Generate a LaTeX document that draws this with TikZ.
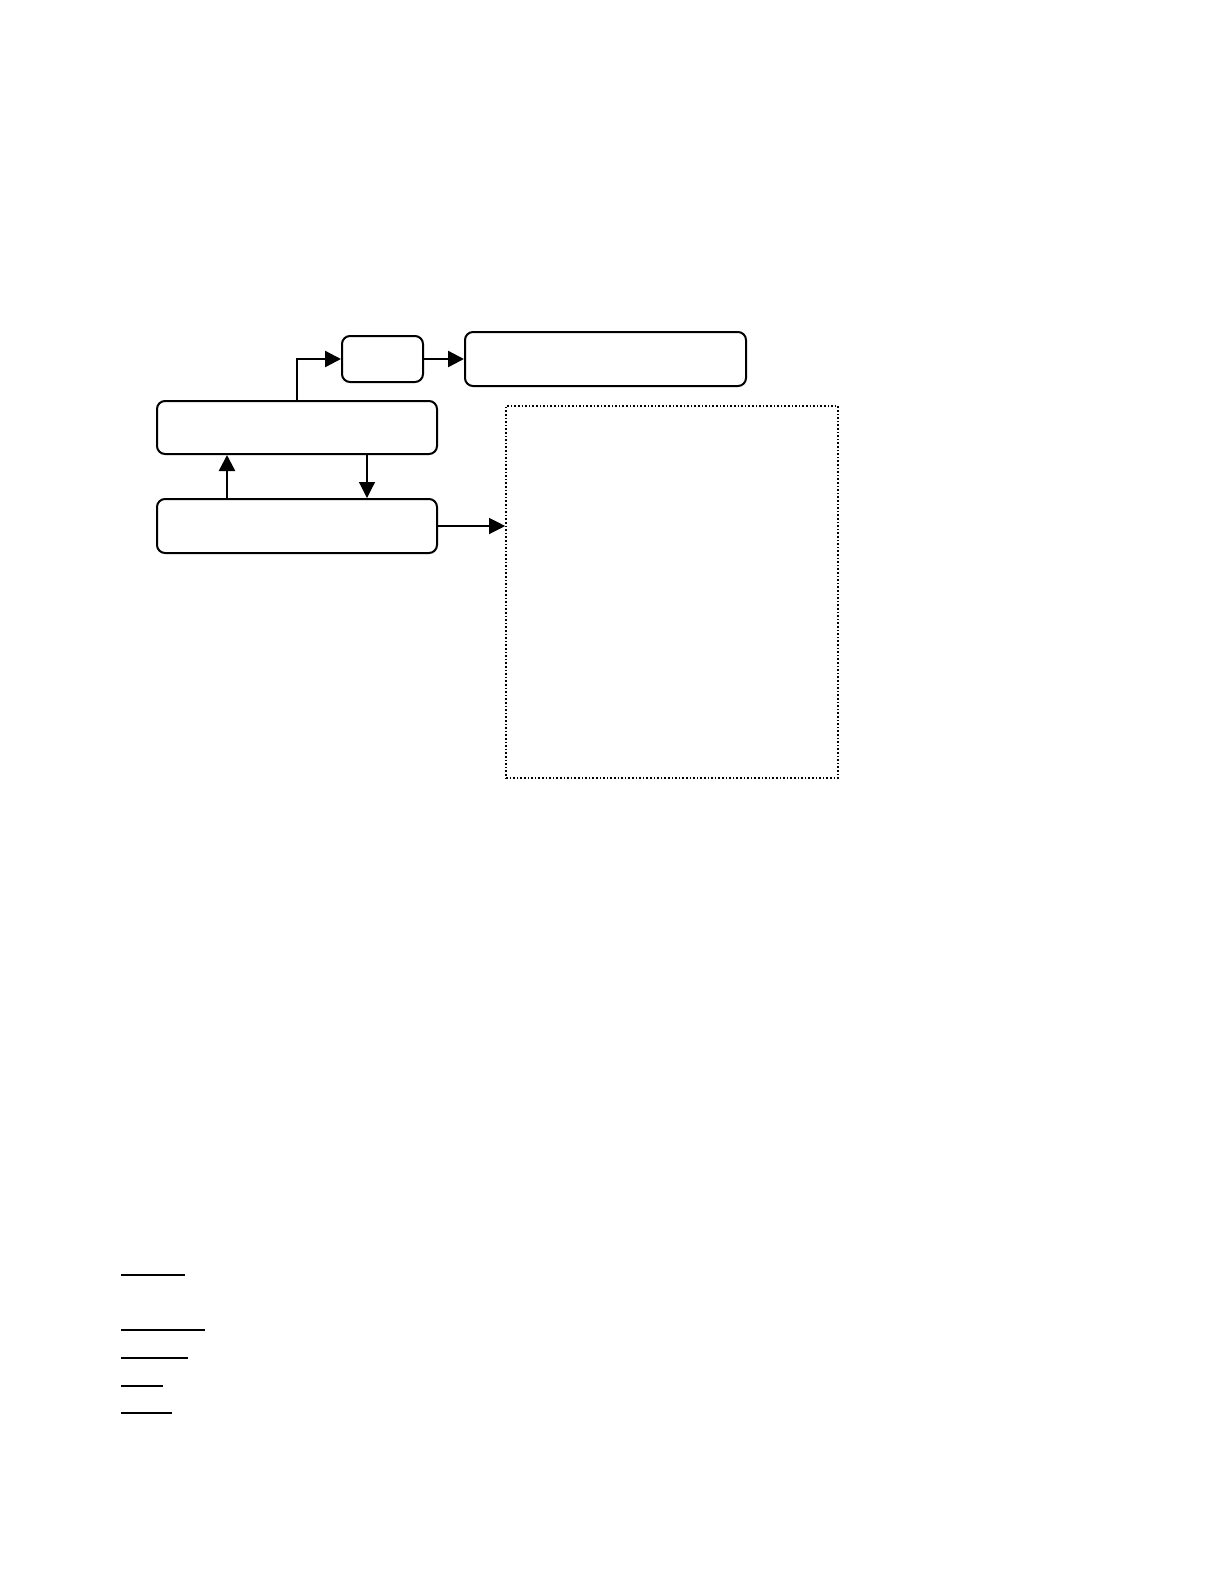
\documentclass[tikz,border=0pt]{standalone}
\usetikzlibrary{arrows.meta}
\begin{document}
\begin{tikzpicture}[x=0.5pt,y=-0.5pt,
  boxstyle/.style={draw=black,line width=1pt,rounded corners=4pt,inner sep=0pt,fill=white},
  dotbox/.style={draw=black,line width=0.8pt,densely dotted,inner sep=0pt},
  thickarrow/.style={line width=1.2pt,-{Triangle[length=8pt,width=8pt]}},
  thinarrow/.style={line width=0.6pt,-{Triangle[length=8pt,width=8pt]}},
  uline/.style={line width=0.8pt}]
\useasboundingbox (0,0) rectangle (1224,1584);
\fill[white] (0,0) rectangle (1224,1584);
\node[boxstyle,minimum width=140pt,minimum height=26.5pt] (A) at (297,427.5) {};
\node[boxstyle,minimum width=140pt,minimum height=27pt] (B) at (297,526) {};
\node[boxstyle,minimum width=40.5pt,minimum height=23pt] (C) at (382.5,359) {};
\node[boxstyle,minimum width=140.5pt,minimum height=27pt] (D) at (605.5,359) {};
\node[dotbox,minimum width=166pt,minimum height=186pt] (E) at (672,592) {};
\draw[thickarrow] (A.north) |- (C.west);
\draw[thickarrow] (C.east) -- (D.west);
\draw[thickarrow] ([xshift=-35pt]B.north) -- ([xshift=-35pt]A.south);
\draw[thinarrow] ([xshift=35pt]A.south) -- ([xshift=35pt]B.north);
\draw[thinarrow] (B.east) -- (B.east -| E.west);
\draw[uline] (121,1275) -- (185,1275);
\draw[uline] (121,1330) -- (205,1330);
\draw[uline,line width=1.2pt] (121,1358) -- (188,1358);
\draw[uline,line width=1.2pt] (121,1386) -- (163,1386);
\draw[uline] (121,1413) -- (172,1413);
\end{tikzpicture}
\end{document}
